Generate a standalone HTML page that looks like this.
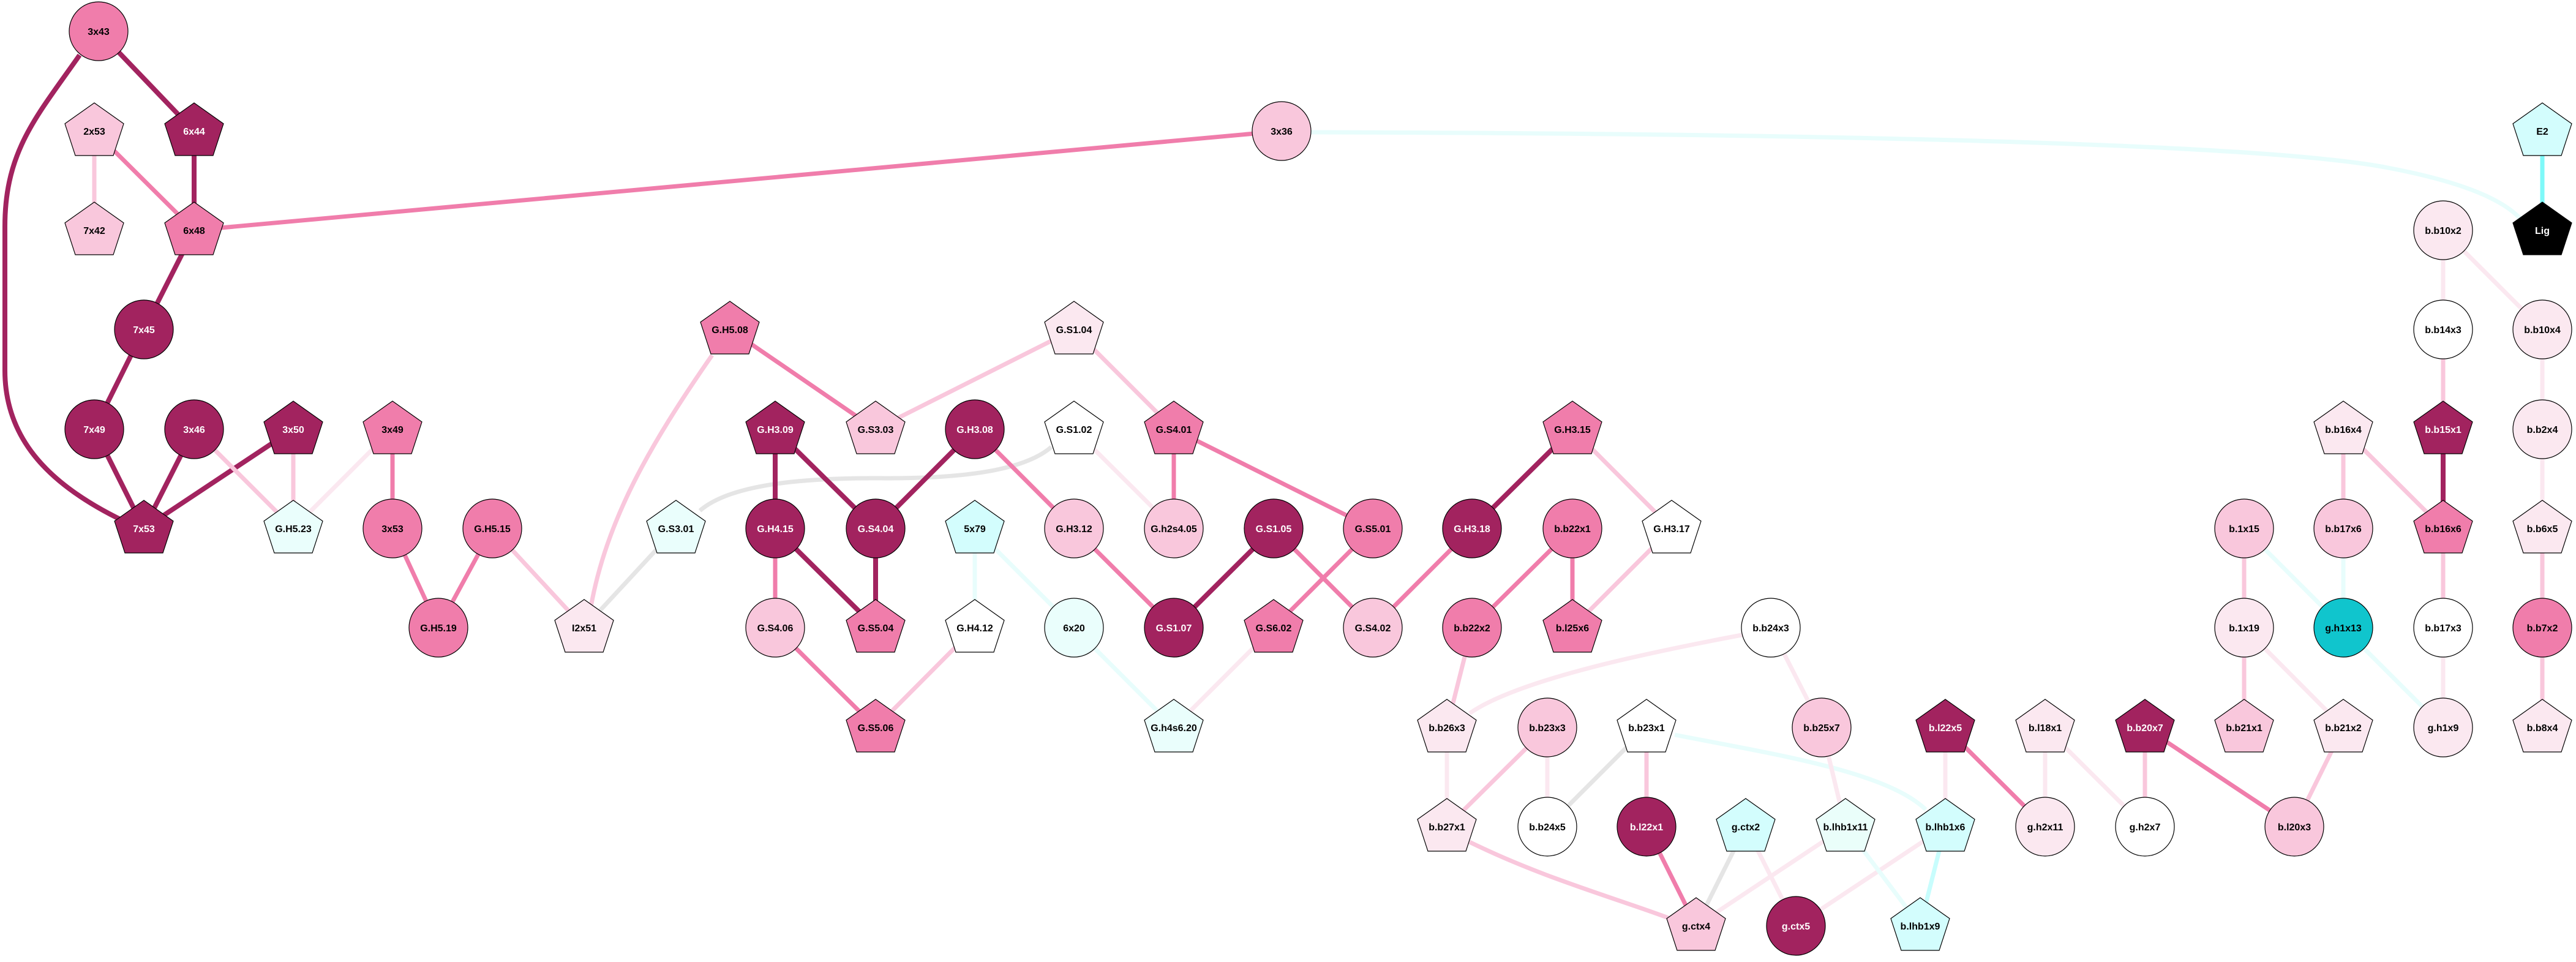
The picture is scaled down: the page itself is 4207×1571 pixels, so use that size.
<!DOCTYPE html>
<html><head><meta charset="utf-8"><style>
html,body{margin:0;padding:0;background:#fff}
svg{display:block}
text{font-family:"Liberation Sans",Arial,sans-serif;font-weight:bold;font-size:16px;text-anchor:middle}
.d{stroke:#a2235f;stroke-width:8;fill:none}
.m{stroke:#f07dab;stroke-width:7;fill:none}
.l{stroke:#f9c7dc;stroke-width:7;fill:none}
.v{stroke:#fbe8f0;stroke-width:7;fill:none}
.g{stroke:#e5e5e5;stroke-width:7;fill:none}
.c{stroke:#e8fdfc;stroke-width:7;fill:none}
.cb{stroke:#c8fdfd;stroke-width:7;fill:none}
.ce{stroke:#7ff9f9;stroke-width:7;fill:none}
.n{stroke:#000;stroke-width:1.2}
.w{fill:#fff}
</style></head><body>
<svg width="4207" height="1571" viewBox="0 0 4207 1571" xmlns="http://www.w3.org/2000/svg">
<defs>
<polygon id="P" points="0,-46 48,-12 31,40 -31,40 -48,-12"/>
</defs>
<!-- edges -->
<line class="d" x1="161" y1="51" x2="317" y2="214"/>
<path class="d" d="M130,90 C60,190 8,246 8,370 L8,605 C8,717 80,795 215,857"/>
<line class="m" x1="154" y1="214" x2="317" y2="376"/>
<line class="l" x1="154" y1="214" x2="154" y2="376"/>
<line class="d" x1="317" y1="214" x2="317" y2="376"/>
<line class="m" x1="317" y1="376" x2="2093" y2="214"/>
<line class="d" x1="317" y1="376" x2="235" y2="538"/>
<line class="d" x1="235" y1="538" x2="154" y2="701"/>
<line class="d" x1="154" y1="701" x2="235" y2="863"/>
<line class="d" x1="317" y1="701" x2="235" y2="863"/>
<line class="d" x1="479" y1="701" x2="235" y2="863"/>
<line class="l" x1="317" y1="701" x2="479" y2="863"/>
<line class="l" x1="479" y1="701" x2="479" y2="863"/>
<line class="v" x1="641" y1="701" x2="479" y2="863"/>
<line class="m" x1="641" y1="701" x2="641" y2="863"/>
<line class="m" x1="641" y1="863" x2="716" y2="1025"/>
<line class="m" x1="804" y1="863" x2="716" y2="1025"/>
<line class="l" x1="804" y1="863" x2="954" y2="1025"/>
<path class="l" d="M1163,580 C1060,728 990,851 965,991"/>
<line class="g" x1="954" y1="1025" x2="1104" y2="863"/>
<path class="g" d="M1143,834 C1200,784 1350,780 1450,781 C1600,781 1680,762 1717,730"/>
<line class="m" x1="1192" y1="538" x2="1430" y2="701"/>
<line class="l" x1="1754" y1="538" x2="1430" y2="701"/>
<line class="l" x1="1754" y1="538" x2="1917" y2="701"/>
<line class="d" x1="1266" y1="701" x2="1266" y2="863"/>
<line class="d" x1="1266" y1="701" x2="1430" y2="863"/>
<line class="m" x1="1266" y1="863" x2="1266" y2="1025"/>
<line class="d" x1="1266" y1="863" x2="1430" y2="1025"/>
<line class="d" x1="1430" y1="863" x2="1430" y2="1025"/>
<line class="d" x1="1592" y1="701" x2="1430" y2="863"/>
<line class="m" x1="1592" y1="701" x2="1754" y2="863"/>
<line class="m" x1="1266" y1="1025" x2="1430" y2="1188"/>
<line class="l" x1="1592" y1="1025" x2="1430" y2="1188"/>
<line class="c" x1="1592" y1="863" x2="1592" y2="1025"/>
<line class="c" x1="1592" y1="863" x2="1754" y2="1025"/>
<line class="c" x1="1754" y1="1025" x2="1917" y2="1188"/>
<line class="v" x1="1754" y1="701" x2="1917" y2="863"/>
<line class="m" x1="1917" y1="701" x2="1917" y2="863"/>
<line class="m" x1="1917" y1="701" x2="2242" y2="863"/>
<line class="m" x1="1754" y1="863" x2="1917" y2="1025"/>
<line class="d" x1="2080" y1="863" x2="1917" y2="1025"/>
<line class="m" x1="2080" y1="863" x2="2242" y2="1025"/>
<line class="m" x1="2242" y1="863" x2="2080" y2="1025"/>
<line class="v" x1="2080" y1="1025" x2="1917" y2="1188"/>
<line class="m" x1="2404" y1="863" x2="2242" y2="1025"/>
<line class="d" x1="2568" y1="701" x2="2404" y2="863"/>
<line class="l" x1="2568" y1="701" x2="2730" y2="863"/>
<line class="l" x1="2730" y1="863" x2="2568" y2="1025"/>
<line class="m" x1="2568" y1="863" x2="2568" y2="1025"/>
<line class="m" x1="2568" y1="863" x2="2404" y2="1025"/>
<line class="l" x1="2404" y1="1025" x2="2363" y2="1188"/>
<path class="v" d="M2400,1165 C2480,1109 2700,1064 2850,1036"/>
<line class="v" x1="2363" y1="1188" x2="2363" y2="1350"/>
<line class="l" x1="2527" y1="1188" x2="2363" y2="1350"/>
<line class="v" x1="2527" y1="1188" x2="2527" y2="1350"/>
<line class="g" x1="2689" y1="1188" x2="2527" y2="1350"/>
<line class="l" x1="2689" y1="1188" x2="2689" y2="1350"/>
<path class="c" d="M2735,1200 C2900,1232 3080,1260 3145,1322"/>
<path class="l" d="M2400,1375 C2520,1434 2640,1467 2730,1501"/>
<line class="m" x1="2689" y1="1350" x2="2770" y2="1512"/>
<line class="g" x1="2851" y1="1350" x2="2770" y2="1512"/>
<line class="v" x1="2851" y1="1350" x2="2933" y2="1512"/>
<line class="v" x1="3014" y1="1350" x2="2770" y2="1512"/>
<line class="v" x1="3177" y1="1350" x2="2933" y2="1512"/>
<line class="c" x1="3014" y1="1350" x2="3136" y2="1512"/>
<line class="cb" x1="3177" y1="1350" x2="3136" y2="1512"/>
<line class="v" x1="2892" y1="1025" x2="2975" y2="1188"/>
<line class="v" x1="2975" y1="1188" x2="3014" y2="1350"/>
<line class="v" x1="3177" y1="1188" x2="3177" y2="1350"/>
<line class="m" x1="3177" y1="1188" x2="3340" y2="1350"/>
<line class="v" x1="3340" y1="1188" x2="3340" y2="1350"/>
<line class="v" x1="3340" y1="1188" x2="3503" y2="1350"/>
<line class="l" x1="3503" y1="1188" x2="3503" y2="1350"/>
<line class="m" x1="3503" y1="1188" x2="3747" y2="1350"/>
<line class="l" x1="3827" y1="1188" x2="3747" y2="1350"/>
<line class="v" x1="3665" y1="1025" x2="3827" y2="1188"/>
<line class="l" x1="3665" y1="1025" x2="3665" y2="1188"/>
<line class="l" x1="3665" y1="863" x2="3665" y2="1025"/>
<line class="c" x1="3665" y1="863" x2="3827" y2="1025"/>
<line class="c" x1="3827" y1="863" x2="3827" y2="1025"/>
<line class="l" x1="3827" y1="701" x2="3827" y2="863"/>
<line class="l" x1="3827" y1="701" x2="3990" y2="863"/>
<line class="d" x1="3990" y1="701" x2="3990" y2="863"/>
<line class="l" x1="3990" y1="538" x2="3990" y2="701"/>
<line class="v" x1="3990" y1="376" x2="3990" y2="538"/>
<line class="v" x1="3990" y1="376" x2="4152" y2="538"/>
<line class="v" x1="4152" y1="538" x2="4152" y2="701"/>
<line class="v" x1="4152" y1="701" x2="4152" y2="863"/>
<line class="l" x1="4152" y1="863" x2="4152" y2="1025"/>
<line class="l" x1="4152" y1="1025" x2="4152" y2="1188"/>
<line class="l" x1="3990" y1="863" x2="3990" y2="1025"/>
<line class="v" x1="3990" y1="1025" x2="3990" y2="1188"/>
<line class="c" x1="3827" y1="1025" x2="3990" y2="1188"/>
<line class="ce" x1="4152" y1="214" x2="4152" y2="376"/>
<path class="c" d="M2140,216 C3000,218 3700,235 3900,274 C4000,293 4080,319 4115,356"/>

<!-- nodes -->
<g class="n">
<ellipse cx="161" cy="51" rx="48" ry="48" fill="#f07dab"/>
<use href="#P" x="154" y="214" fill="#f9c7dc"/>
<use href="#P" x="317" y="214" fill="#a2235f"/>
<use href="#P" x="154" y="376" fill="#f9c7dc"/>
<use href="#P" x="317" y="376" fill="#f07dab"/>
<ellipse cx="235" cy="538" rx="48" ry="48" fill="#a2235f"/>
<ellipse cx="154" cy="701" rx="48" ry="48" fill="#a2235f"/>
<ellipse cx="317" cy="701" rx="48" ry="48" fill="#a2235f"/>
<use href="#P" x="479" y="701" fill="#a2235f"/>
<use href="#P" x="641" y="701" fill="#f07dab"/>
<use href="#P" x="235" y="863" fill="#a2235f"/>
<use href="#P" x="479" y="863" fill="#eafefc"/>
<ellipse cx="641" cy="863" rx="48" ry="48" fill="#f07dab"/>
<ellipse cx="804" cy="863" rx="48" ry="48" fill="#f07dab"/>
<ellipse cx="716" cy="1025" rx="48" ry="48" fill="#f07dab"/>
<use href="#P" x="954" y="1025" fill="#fbe8f0"/>
<use href="#P" x="1104" y="863" fill="#eafefc"/>
<use href="#P" x="1192" y="538" fill="#f07dab"/>
<use href="#P" x="1266" y="701" fill="#a2235f"/>
<ellipse cx="1266" cy="863" rx="48" ry="48" fill="#a2235f"/>
<ellipse cx="1266" cy="1025" rx="48" ry="48" fill="#f9c7dc"/>
<ellipse cx="2093" cy="214" rx="48" ry="48" fill="#f9c7dc"/>
<use href="#P" x="1754" y="538" fill="#fbe8f0"/>
<use href="#P" x="1430" y="701" fill="#f9c7dc"/>
<ellipse cx="1592" cy="701" rx="48" ry="48" fill="#a2235f"/>
<use href="#P" x="1754" y="701" fill="#fff"/>
<use href="#P" x="1917" y="701" fill="#f07dab"/>
<use href="#P" x="2568" y="701" fill="#f07dab"/>
<ellipse cx="1430" cy="863" rx="48" ry="48" fill="#a2235f"/>
<use href="#P" x="1592" y="863" fill="#d3fdfd"/>
<ellipse cx="1754" cy="863" rx="48" ry="48" fill="#f9c7dc"/>
<ellipse cx="1917" cy="863" rx="48" ry="48" fill="#f9c7dc"/>
<ellipse cx="2080" cy="863" rx="48" ry="48" fill="#a2235f"/>
<ellipse cx="2242" cy="863" rx="48" ry="48" fill="#f07dab"/>
<ellipse cx="2404" cy="863" rx="48" ry="48" fill="#a2235f"/>
<ellipse cx="2568" cy="863" rx="48" ry="48" fill="#f07dab"/>
<use href="#P" x="2730" y="863" fill="#fff"/>
<use href="#P" x="1430" y="1025" fill="#f07dab"/>
<use href="#P" x="1592" y="1025" fill="#fff"/>
<ellipse cx="1754" cy="1025" rx="48" ry="48" fill="#eafefc"/>
<ellipse cx="1917" cy="1025" rx="48" ry="48" fill="#a2235f"/>
<use href="#P" x="2080" y="1025" fill="#f07dab"/>
<ellipse cx="2242" cy="1025" rx="48" ry="48" fill="#f9c7dc"/>
<ellipse cx="2404" cy="1025" rx="48" ry="48" fill="#f07dab"/>
<use href="#P" x="2568" y="1025" fill="#f07dab"/>
<use href="#P" x="1430" y="1188" fill="#f07dab"/>
<use href="#P" x="1917" y="1188" fill="#eafefc"/>
<use href="#P" x="2363" y="1188" fill="#fbe8f0"/>
<ellipse cx="2527" cy="1188" rx="48" ry="48" fill="#f9c7dc"/>
<use href="#P" x="2689" y="1188" fill="#fff"/>
<use href="#P" x="2363" y="1350" fill="#fbe8f0"/>
<ellipse cx="2527" cy="1350" rx="48" ry="48" fill="#fff"/>
<ellipse cx="2689" cy="1350" rx="48" ry="48" fill="#a2235f"/>
<use href="#P" x="2770" y="1512" fill="#f9c7dc"/>
<use href="#P" x="4152" y="214" fill="#d3fdfd"/>
<use href="#P" x="4152" y="376" fill="#000"/>
<ellipse cx="3990" cy="376" rx="48" ry="48" fill="#fbe8f0"/>
<ellipse cx="3990" cy="538" rx="48" ry="48" fill="#fff"/>
<ellipse cx="4152" cy="538" rx="48" ry="48" fill="#fbe8f0"/>
<use href="#P" x="3827" y="701" fill="#fbe8f0"/>
<use href="#P" x="3990" y="701" fill="#a2235f"/>
<ellipse cx="4152" cy="701" rx="48" ry="48" fill="#fbe8f0"/>
<ellipse cx="3665" cy="863" rx="48" ry="48" fill="#f9c7dc"/>
<ellipse cx="3827" cy="863" rx="48" ry="48" fill="#f9c7dc"/>
<use href="#P" x="3990" y="863" fill="#f07dab"/>
<use href="#P" x="4152" y="863" fill="#fbe8f0"/>
<ellipse cx="2892" cy="1025" rx="48" ry="48" fill="#fff"/>
<ellipse cx="3665" cy="1025" rx="48" ry="48" fill="#fbe8f0"/>
<ellipse cx="3827" cy="1025" rx="48" ry="48" fill="#10c5cd"/>
<ellipse cx="3990" cy="1025" rx="48" ry="48" fill="#fff"/>
<ellipse cx="4152" cy="1025" rx="48" ry="48" fill="#f07dab"/>
<ellipse cx="2975" cy="1188" rx="48" ry="48" fill="#f9c7dc"/>
<use href="#P" x="3177" y="1188" fill="#a2235f"/>
<use href="#P" x="3340" y="1188" fill="#fbe8f0"/>
<use href="#P" x="3503" y="1188" fill="#a2235f"/>
<use href="#P" x="3665" y="1188" fill="#f9c7dc"/>
<use href="#P" x="3827" y="1188" fill="#fbe8f0"/>
<ellipse cx="3990" cy="1188" rx="48" ry="48" fill="#fbe8f0"/>
<use href="#P" x="4152" y="1188" fill="#fbe8f0"/>
<use href="#P" x="2851" y="1350" fill="#d3fdfd"/>
<use href="#P" x="3014" y="1350" fill="#eafefa"/>
<use href="#P" x="3177" y="1350" fill="#d3fdfd"/>
<ellipse cx="3340" cy="1350" rx="48" ry="48" fill="#fbe8f0"/>
<ellipse cx="3503" cy="1350" rx="48" ry="48" fill="#fff"/>
<ellipse cx="3747" cy="1350" rx="48" ry="48" fill="#f9c7dc"/>
<ellipse cx="2933" cy="1512" rx="48" ry="48" fill="#a2235f"/>
<use href="#P" x="3136" y="1512" fill="#d3fdfd"/>
</g>

<!-- labels -->
<g>
<text x="161" y="57">3x43</text>
<text x="154" y="220">2x53</text>
<text class="w" x="317" y="220">6x44</text>
<text x="154" y="382">7x42</text>
<text x="317" y="382">6x48</text>
<text class="w" x="235" y="544">7x45</text>
<text class="w" x="154" y="707">7x49</text>
<text class="w" x="317" y="707">3x46</text>
<text class="w" x="479" y="707">3x50</text>
<text x="641" y="707">3x49</text>
<text class="w" x="235" y="869">7x53</text>
<text x="479" y="869">G.H5.23</text>
<text x="641" y="869">3x53</text>
<text x="804" y="869">G.H5.15</text>
<text x="716" y="1031">G.H5.19</text>
<text x="954" y="1031">I2x51</text>
<text x="1104" y="869">G.S3.01</text>
<text x="1192" y="544">G.H5.08</text>
<text class="w" x="1266" y="707">G.H3.09</text>
<text class="w" x="1266" y="869">G.H4.15</text>
<text x="1266" y="1031">G.S4.06</text>
<text x="2093" y="220">3x36</text>
<text x="1754" y="544">G.S1.04</text>
<text x="1430" y="707">G.S3.03</text>
<text class="w" x="1592" y="707">G.H3.08</text>
<text x="1754" y="707">G.S1.02</text>
<text x="1917" y="707">G.S4.01</text>
<text x="2568" y="707">G.H3.15</text>
<text class="w" x="1430" y="869">G.S4.04</text>
<text x="1592" y="869">5x79</text>
<text x="1754" y="869">G.H3.12</text>
<text x="1917" y="869">G.h2s4.05</text>
<text class="w" x="2080" y="869">G.S1.05</text>
<text x="2242" y="869">G.S5.01</text>
<text class="w" x="2404" y="869">G.H3.18</text>
<text x="2568" y="869">b.b22x1</text>
<text x="2730" y="869">G.H3.17</text>
<text x="1430" y="1031">G.S5.04</text>
<text x="1592" y="1031">G.H4.12</text>
<text x="1754" y="1031">6x20</text>
<text class="w" x="1917" y="1031">G.S1.07</text>
<text x="2080" y="1031">G.S6.02</text>
<text x="2242" y="1031">G.S4.02</text>
<text x="2404" y="1031">b.b22x2</text>
<text x="2568" y="1031">b.l25x6</text>
<text x="1430" y="1194">G.S5.06</text>
<text x="1917" y="1194">G.h4s6.20</text>
<text x="2363" y="1194">b.b26x3</text>
<text x="2527" y="1194">b.b23x3</text>
<text x="2689" y="1194">b.b23x1</text>
<text x="2363" y="1356">b.b27x1</text>
<text x="2527" y="1356">b.b24x5</text>
<text class="w" x="2689" y="1356">b.l22x1</text>
<text x="2770" y="1518">g.ctx4</text>
<text x="4152" y="220">E2</text>
<text class="w" x="4152" y="382">Lig</text>
<text x="3990" y="382">b.b10x2</text>
<text x="3990" y="544">b.b14x3</text>
<text x="4152" y="544">b.b10x4</text>
<text x="3827" y="707">b.b16x4</text>
<text class="w" x="3990" y="707">b.b15x1</text>
<text x="4152" y="707">b.b2x4</text>
<text x="3665" y="869">b.1x15</text>
<text x="3827" y="869">b.b17x6</text>
<text x="3990" y="869">b.b16x6</text>
<text x="4152" y="869">b.b6x5</text>
<text x="2892" y="1031">b.b24x3</text>
<text x="3665" y="1031">b.1x19</text>
<text x="3827" y="1031">g.h1x13</text>
<text x="3990" y="1031">b.b17x3</text>
<text x="4152" y="1031">b.b7x2</text>
<text x="2975" y="1194">b.b25x7</text>
<text class="w" x="3177" y="1194">b.l22x5</text>
<text x="3340" y="1194">b.l18x1</text>
<text class="w" x="3503" y="1194">b.b20x7</text>
<text x="3665" y="1194">b.b21x1</text>
<text x="3827" y="1194">b.b21x2</text>
<text x="3990" y="1194">g.h1x9</text>
<text x="4152" y="1194">b.b8x4</text>
<text x="2851" y="1356">g.ctx2</text>
<text x="3014" y="1356">b.lhb1x11</text>
<text x="3177" y="1356">b.lhb1x6</text>
<text x="3340" y="1356">g.h2x11</text>
<text x="3503" y="1356">g.h2x7</text>
<text x="3747" y="1356">b.l20x3</text>
<text class="w" x="2933" y="1518">g.ctx5</text>
<text x="3136" y="1518">b.lhb1x9</text>
</g>
</svg>
</body></html>
